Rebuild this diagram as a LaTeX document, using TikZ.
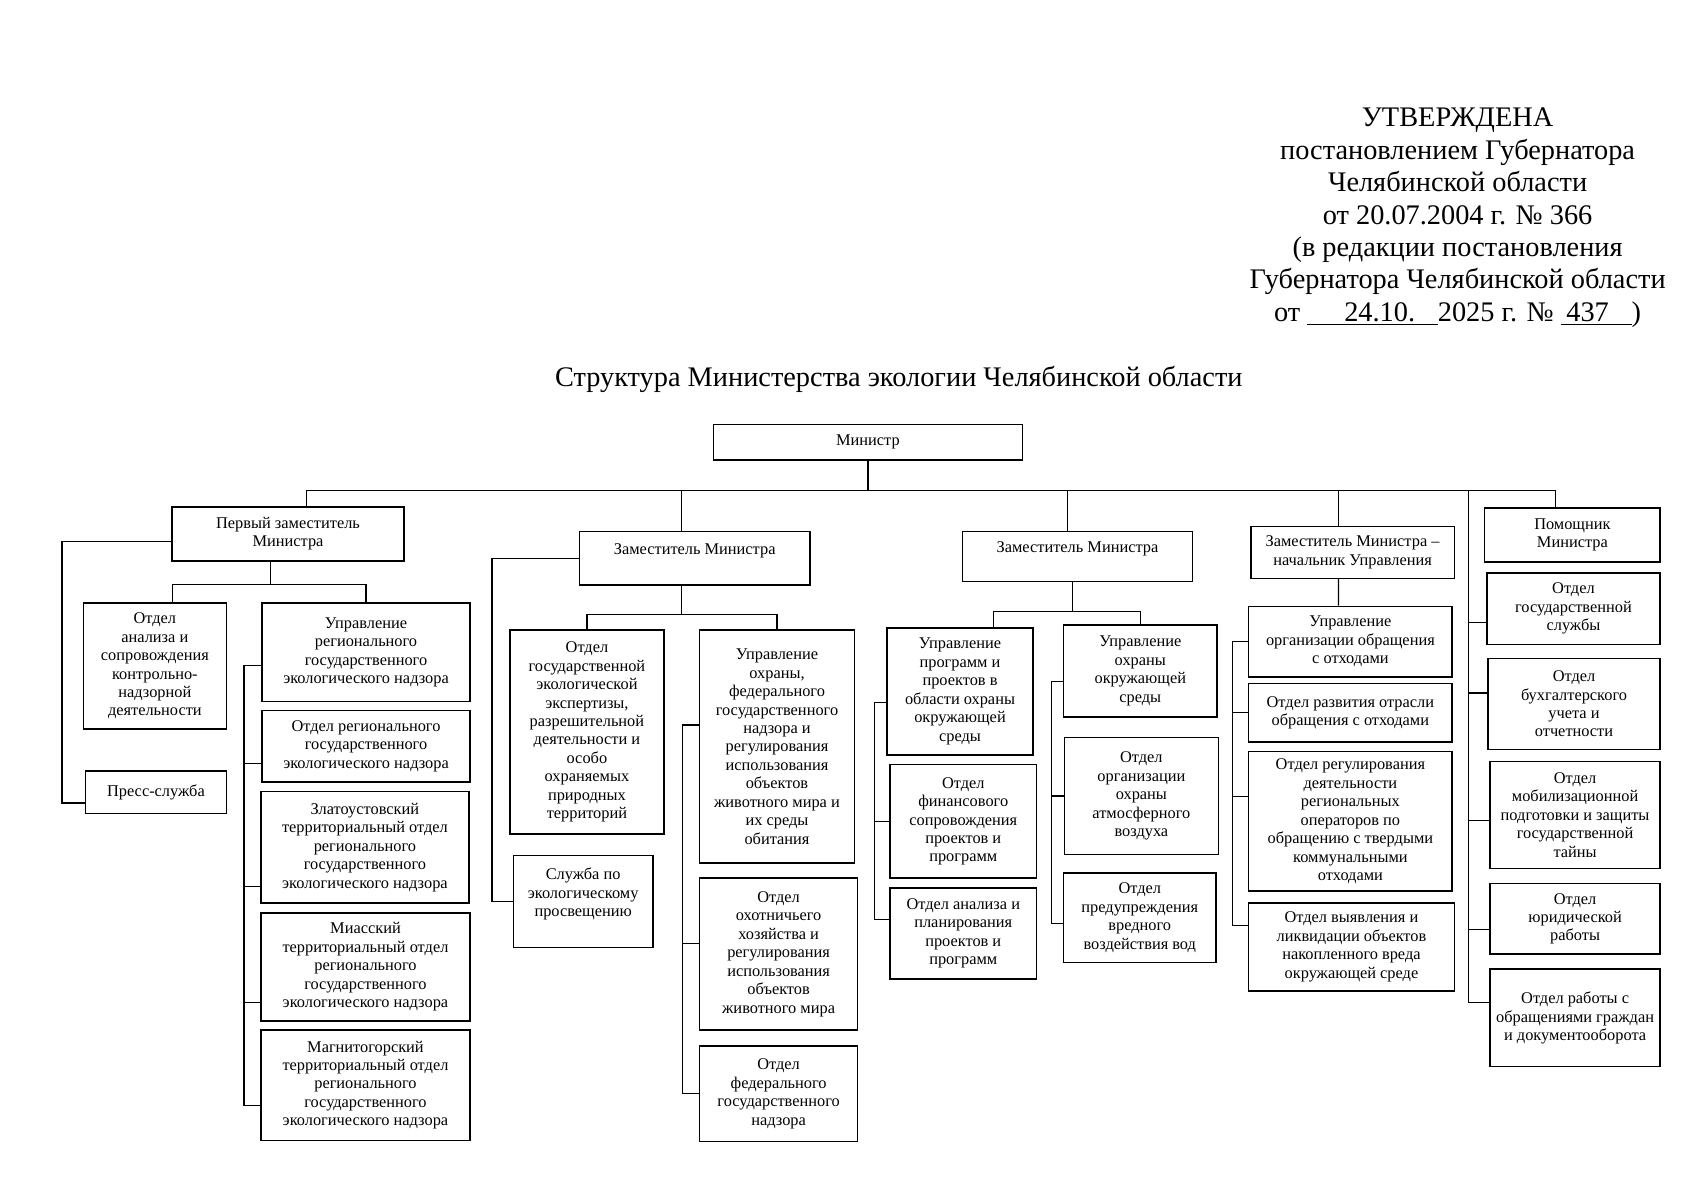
\documentclass[tikz,border=0pt]{standalone}
\usepackage{fontspec}
\setmainfont{Liberation Serif}

\tikzset{
  unit/.style={draw, line width=0.8pt, inner sep=0pt, align=center,
    font=\fontsize{8.6}{9.7}\selectfont},
  boxsize/.style 2 args={minimum width=#1*0.02cm, minimum height=#2*0.02cm},
  link/.style={line width=0.6pt},
  head/.style={align=center, font=\fontsize{14.9}{17}\selectfont},
}

\begin{document}
\begin{tikzpicture}[x=0.02cm, y=-0.02cm]
\useasboundingbox (0,0) rectangle (1568,1108);

\node[head] (approved) at (1346,201) {УТВЕРЖДЕНА\\постановлением Губернатора\\Челябинской области\\от 20.07.2004 г. № 366\\(в редакции постановления\\Губернатора Челябинской области\\от \underline{\hspace{1.3em}24.10.\hspace{0.8em}}2025 г. № \underline{\hspace{0.2em}437\hspace{0.8em}})};
\node[head] (title) at (830,350) {Структура Министерства экологии Челябинской области};

% top level
\node[unit, boxsize={285}{33}] (min) at (801.5,408.5) {Министр};
\node[unit, boxsize={214}{50}] (first) at (266,493) {Первый заместитель\\Министра};
\node[unit, boxsize={213}{49}] (dep2) at (641.5,515.5) {Заместитель Министра\\~};
\node[unit, boxsize={212}{46}] (dep3) at (995,514) {Заместитель Министра\\~};
\node[unit, boxsize={188}{48}] (dep4) at (1249,510) {Заместитель Министра –\\начальник Управления};
\node[unit, boxsize={162}{50}] (pom) at (1452,494) {Помощник\\Министра};

% first deputy
\node[unit, boxsize={132}{116}] (c1a) at (143,615) {Отдел\\анализа и\\сопровождения\\контрольно-\\надзорной\\деятельности};
\node[unit, boxsize={130}{39}] (c1p) at (144,731.5) {Пресс-служба};
\node[unit, boxsize={192}{91}] (c1u) at (338,602.5) {Управление\\регионального\\государственного\\экологического надзора};
\node[unit, boxsize={192}{66}] (c1b) at (338,689) {Отдел регионального\\государственного\\экологического надзора};
\node[unit, boxsize={192}{103}] (c1z) at (337,782.5) {Златоустовский\\территориальный отдел\\регионального\\государственного\\экологического надзора};
\node[unit, boxsize={193}{100}] (c1m) at (337.5,893) {Миасский\\территориальный отдел\\регионального\\государственного\\экологического надзора};
\node[unit, boxsize={193}{102}] (c1g) at (337.5,1002) {Магнитогорский\\территориальный отдел\\регионального\\государственного\\экологического надзора};

% second deputy
\node[unit, boxsize={142}{188}] (c2a) at (542,676) {Отдел\\государственной\\экологической\\экспертизы,\\разрешительной\\деятельности и\\особо\\охраняемых\\природных\\территорий};
\node[unit, boxsize={143}{215}] (c2u) at (717.5,689.5) {Управление\\охраны,\\федерального\\государственного\\надзора и\\регулирования\\использования\\объектов\\животного мира и\\их среды\\обитания};
\node[unit, boxsize={129}{85}] (c2s) at (538.5,832.5) {Служба по\\экологическому\\просвещению\\~};
\node[unit, boxsize={146}{140}] (c2h) at (719,881) {Отдел\\охотничьего\\хозяйства и\\регулирования\\использования\\объектов\\животного мира};
\node[unit, boxsize={146}{88}] (c2f) at (719,1010) {Отдел\\федерального\\государственного\\надзора};

% third deputy
\node[unit, boxsize={135}{117}] (c3u) at (886.5,638.5) {Управление\\программ и\\проектов в\\области охраны\\окружающей\\среды};
\node[unit, boxsize={135}{105}] (c3f) at (889.5,758.5) {Отдел\\финансового\\сопровождения\\проектов и\\программ};
\node[unit, boxsize={135}{84}] (c3a) at (889.5,862) {Отдел анализа и\\планирования\\проектов и\\программ};
\node[unit, boxsize={142}{85}] (c3e) at (1053,619.5) {Управление\\охраны\\окружающей\\среды};
\node[unit, boxsize={142}{108}] (c3o) at (1054,735) {Отдел\\организации\\охраны\\атмосферного\\воздуха};
\node[unit, boxsize={141}{83}] (c3w) at (1052.5,847.5) {Отдел\\предупреждения\\вредного\\воздействия вод};

% deputy - head of department
\node[unit, boxsize={188}{65}] (c4u) at (1247,592.5) {Управление\\организации обращения\\с отходами};
\node[unit, boxsize={188}{54}] (c4d) at (1247,658) {Отдел развития отрасли\\обращения с отходами};
\node[unit, boxsize={188}{129}] (c4r) at (1247,758.5) {Отдел регулирования\\деятельности\\региональных\\операторов по\\обращению с твердыми\\коммунальными\\отходами};
\node[unit, boxsize={190}{81}] (c4v) at (1248,874.5) {Отдел выявления и\\ликвидации объектов\\накопленного вреда\\окружающей среде};

% assistant column
\node[unit, boxsize={160}{66}] (c5s) at (1453,562) {Отдел\\государственной\\службы};
\node[unit, boxsize={159}{84}] (c5b) at (1453.5,650) {Отдел\\бухгалтерского\\учета и\\отчетности};
\node[unit, boxsize={157}{99}] (c5m) at (1454.5,752.5) {Отдел\\мобилизационной\\подготовки и защиты\\государственной\\тайны};
\node[unit, boxsize={157}{65}] (c5j) at (1454.5,848.5) {Отдел\\юридической\\работы};
\node[unit, boxsize={157}{90}] (c5o) at (1454.5,940) {Отдел работы с\\обращениями граждан\\и документооборота};

% main bus
\draw[link] (min.south) -- ++(0,27) coordinate (bus);
\draw[link] ([xshift=0.34cm]first.north) |- (bus) -| ([xshift=-0.32cm]pom.north);
\draw[link] ([xshift=-0.24cm]dep2.north) |- (bus);
\draw[link] ([xshift=-0.18cm]dep3.north) |- (bus);
\draw[link] ([xshift=-0.26cm]dep4.north) |- (bus);

% first deputy links
\draw[link] ([xshift=-0.32cm]first.south) -- ++(0,21) coordinate (s1);
\draw[link] ([xshift=0.32cm]c1a.north) |- (s1) -| (c1u.north);
\draw[link] (first.west) ++(0,7) -- ++(-101,0) |- ([yshift=-0.2cm]c1p.west);
\draw[link] (c1u.west) ++(0,12) -- ++(-16,0) coordinate (sp1) |- ([yshift=-0.38cm]c1g.west);
\draw[link] (c1b.west) ++(0,16) -| (sp1);
\draw[link] (c1z.west) ++(0,36) -| (sp1);
\draw[link] (c1m.west) ++(0,33) -| (sp1);

% second deputy links
\draw[link] ([xshift=-0.24cm]dep2.south) -- ++(0,27) coordinate (s2);
\draw[link] (c2a.north) |- (s2) -| (c2u.north);
\draw[link] (dep2.west) -- ++(-80,0) |- (c2s.west);
\draw[link] (c2u.west) ++(0,-20) -- ++(-15,0) coordinate (sp2) |- (c2f.west);
\draw[link] (c2h.west) ++(0,-10) -| (sp2);

% third deputy links
\draw[link] ([xshift=-0.1cm]dep3.south) -- ++(0,27) coordinate (s3);
\draw[link] ([xshift=0.62cm]c3u.north) |- (s3) -| (c3e.north);
\draw[link] (c3u.west) ++(0,10) -- ++(-11,0) coordinate (sp3) |- ([yshift=0.26cm]c3a.west);
\draw[link] (c3f.west) -| (sp3);
\draw[link] (c3e.west) ++(0,10) -- ++(-10,0) coordinate (sp4) |- ([yshift=-0.1cm]c3w.west);
\draw[link] (c3o.west) -| (sp4);

% deputy - head links
\draw[link] ([xshift=-0.26cm]dep4.south) -- ([xshift=-0.22cm]c4u.north);
\draw[link] (c4u.west) -- ++(-14,0) coordinate (sp5) |- ([yshift=0.4cm]c4v.west);
\draw[link] (c4d.west) -| (sp5);
\draw[link] (c4r.west) ++(0,-23) -| (sp5);

% assistant column links
\draw[link] (c5o.west) ++(0,-14) -- ++(-19,0) coordinate (sp6) |- (bus);
\draw[link] (c5s.west) ++(0,13) -| (sp6);
\draw[link] (c5b.west) ++(0,-10) -| (sp6);
\draw[link] (c5m.west) ++(0,5) -| (sp6);
\draw[link] (c5j.west) ++(0,10) -| (sp6);
\end{tikzpicture}
\end{document}
